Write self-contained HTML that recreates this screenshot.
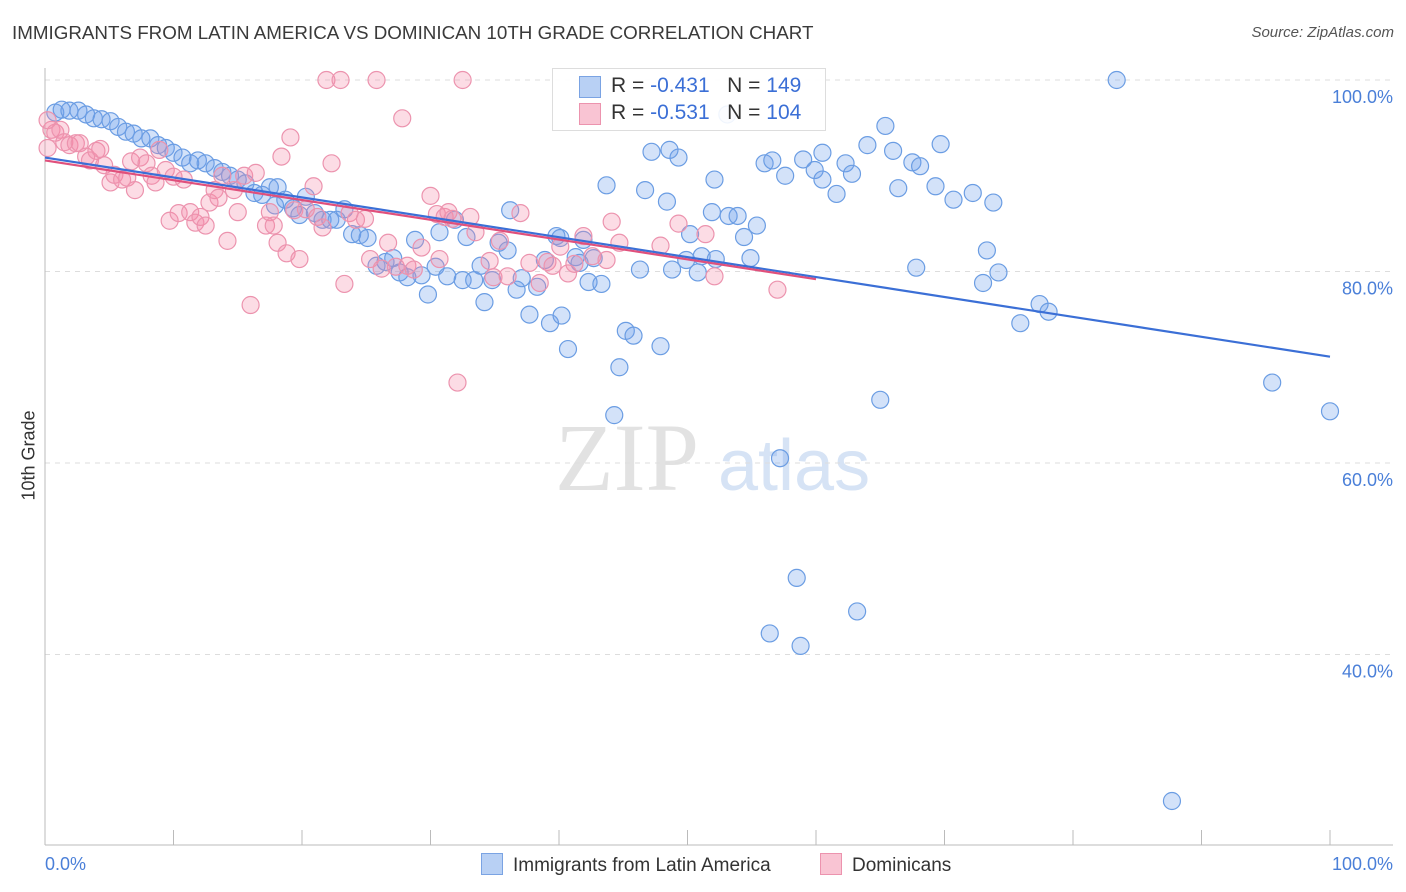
<!DOCTYPE html>
<html><head><meta charset="utf-8">
<style>
body{margin:0;background:#fff;font-family:"Liberation Sans",sans-serif;}
#wrap{position:relative;width:1406px;height:892px;overflow:hidden;}
.t{position:absolute;white-space:nowrap;}
</style></head>
<body>
<div id="wrap">
<div class="t" style="left:12px;top:22px;font-size:18.8px;color:#3a3a3a;">IMMIGRANTS FROM LATIN AMERICA VS DOMINICAN 10TH GRADE CORRELATION CHART</div>
<div class="t" style="right:12px;top:24px;font-size:15px;color:#555;font-style:italic;">Source: ZipAtlas.com</div>
<div class="t" style="left:-16px;top:445px;font-size:18px;color:#333;transform:rotate(-90deg);">10th Grade</div>
<svg id="svg" width="1406" height="892" style="position:absolute;left:0;top:0;"></svg>
</div>
<script>
const blueX=[0.8,1.3,1.9,2.6,3.2,3.8,4.4,5.1,5.7,6.3,6.9,7.5,8.2,8.8,9.4,10.0,10.7,11.3,11.9,12.5,13.2,13.8,14.4,15.0,15.6,16.3,16.9,17.5,18.1,17.9,18.7,19.3,19.8,20.3,21.0,21.6,22.2,22.7,23.3,23.9,24.5,25.1,25.8,26.5,27.1,27.6,28.2,28.8,29.3,29.8,30.4,30.7,31.3,31.9,32.5,32.8,33.4,33.9,34.2,34.8,35.3,36.0,36.2,36.7,37.1,37.7,38.3,38.9,39.3,39.8,40.2,40.7,41.3,41.6,41.9,42.3,42.7,43.3,43.7,44.3,44.7,45.2,45.8,46.3,46.7,47.2,47.9,48.4,48.8,49.3,49.9,50.2,50.8,51.1,51.9,52.1,52.2,53.2,53.9,54.4,54.9,55.4,56.0,56.6,57.2,57.6,58.5,58.8,56.4,59.0,59.9,60.5,60.5,61.6,62.3,62.8,63.2,64.0,65.0,65.4,66.0,66.4,67.5,67.8,68.1,69.3,69.7,70.7,72.2,73.0,73.3,73.8,74.2,75.9,77.4,78.1,83.4,87.7,95.5,100,53.1,48.6,40.1];
const blueY=[96.6,96.9,96.8,96.8,96.4,96.0,95.9,95.7,95.1,94.6,94.4,93.9,93.9,93.2,92.9,92.4,91.9,91.3,91.6,91.3,90.8,90.4,90.0,89.6,89.2,88.2,88.0,88.8,88.8,86.9,87.5,86.6,85.9,87.8,86.1,85.4,85.4,85.4,86.5,83.9,83.8,83.5,80.6,81.0,81.4,79.9,79.4,83.3,79.6,77.6,80.5,84.1,79.5,85.4,79.1,83.6,79.1,80.6,76.8,79.1,83.0,82.2,86.4,78.1,79.3,75.5,78.4,81.2,74.6,83.7,75.4,71.9,81.5,80.9,83.3,78.9,81.4,78.7,89.0,65.0,70.0,73.8,73.3,80.2,88.5,92.5,72.2,87.3,80.2,91.9,81.2,83.9,79.9,81.6,86.2,89.6,81.3,85.8,85.8,83.6,81.4,84.8,91.3,91.6,60.5,90.0,48.0,40.9,42.2,91.7,90.6,89.6,92.4,88.1,91.3,90.2,44.5,93.2,66.6,95.2,92.6,88.7,91.4,80.4,91.0,88.9,93.3,87.5,88.2,78.8,82.2,87.2,79.9,74.6,76.6,75.8,100,24.7,68.4,65.4,96.4,92.7,83.5];
const pinkX=[0.5,0.8,1.2,1.5,1.9,2.4,2.7,3.2,3.5,4.0,4.3,4.6,5.1,5.4,6.0,6.4,6.7,7.0,7.4,7.9,8.3,8.6,8.9,9.4,9.7,10.0,10.4,10.8,11.3,11.7,12.1,12.5,12.8,13.2,13.5,13.8,14.2,14.7,15.0,15.5,16.0,16.4,17.2,17.5,17.8,18.1,18.4,18.8,19.1,19.4,19.8,20.3,20.9,21.2,21.6,21.9,22.3,23.0,23.3,23.7,24.2,24.9,25.3,25.8,26.2,26.7,27.3,27.8,28.2,28.7,29.3,30.0,30.5,30.7,31.1,31.4,31.7,32.1,32.5,33.1,33.5,34.6,34.9,35.4,36.0,37.0,37.7,38.5,39.1,39.5,40.1,40.7,41.2,41.9,42.6,43.7,44.1,44.7,47.9,49.3,51.4,52.1,57.0,0.2,0.2];
const pinkY=[94.8,94.5,94.8,93.5,93.2,93.4,93.4,92.0,91.6,92.6,92.8,91.1,89.3,90.1,89.6,89.8,91.5,88.5,91.9,91.3,90.0,89.3,92.7,90.6,85.3,89.9,86.1,89.6,86.2,85.1,85.7,84.8,87.2,88.5,87.7,90.0,83.2,88.5,86.2,90.0,76.5,90.3,84.8,86.2,84.8,83.0,92.0,81.9,94.0,86.4,81.3,86.5,88.9,85.7,84.6,100,91.3,100,78.7,86.1,85.4,85.5,81.3,100,80.3,83.0,80.5,96.0,80.6,80.2,82.5,87.9,86.0,81.3,85.7,86.2,85.5,68.4,100,85.7,84.1,81.1,79.4,83.2,79.5,86.1,80.9,78.8,81.0,80.6,82.6,79.8,80.8,83.7,81.6,81.2,85.2,83.0,82.7,85.0,83.9,79.5,78.1,95.8,92.9];
const yTicks=[100,80,60,40];
const yTickLabels=["100.0%","80.0%","60.0%","40.0%"];
const xTicks=[0,10,20,30,40,50,60,70,80,90,100];
const blueTrend=[91.9,71.1,0,100];
const pinkTrend=[91.6,79.2,0,60];

const X=v=>45+v*12.85;
const Y=v=>80+(100-v)*9.575;
const svg=document.getElementById('svg');
const NS='http://www.w3.org/2000/svg';
function mk(tag,attrs,parent){const e=document.createElementNS(NS,tag);for(const k in attrs)e.setAttribute(k,attrs[k]);(parent||svg).appendChild(e);return e;}

let wm=mk('text',{x:555,y:490,'font-size':96,'font-family':'Liberation Serif,serif',fill:'#e2e2e2'});
wm.textContent='ZIP';


let wm2=mk('text',{x:718,y:490,'font-size':72,'font-family':'Liberation Sans,sans-serif',fill:'#d6e3f5'});
wm2.textContent='atlas';



yTicks.forEach((t,i)=>{
  let g=mk('line',{x1:45,x2:1393,y1:Y(t),y2:Y(t),stroke:'#ddd','stroke-dasharray':'5,5'});
  
  
  let l=mk('text',{x:1393,y:Y(t)+23,'text-anchor':'end','font-size':18,fill:'#4a7fd8','font-family':'Liberation Sans,sans-serif'});
  l.textContent=yTickLabels[i];
  
  
});
let ax=mk('line',{x1:45,x2:45,y1:68,y2:845,stroke:'#bbb'});


let bx=mk('line',{x1:45,x2:1393,y1:845,y2:845,stroke:'#bbb'});


xTicks.forEach(t=>{
  let k=mk('line',{x1:X(t),x2:X(t),y1:830,y2:845,stroke:'#bbb'});
  
  
});
let xl0=mk('text',{x:45,y:870,'font-size':18,fill:'#4a7fd8','font-family':'Liberation Sans,sans-serif'});
xl0.textContent='0.0%';


let xl1=mk('text',{x:1393,y:870,'text-anchor':'end','font-size':18,fill:'#4a7fd8','font-family':'Liberation Sans,sans-serif'});
xl1.textContent='100.0%';



blueX.forEach((v,i)=>{
  let c=mk('circle',{cx:X(v),cy:Y(blueY[i]),r:8.5,fill:'rgba(110,160,235,0.3)',stroke:'#6b9de3','stroke-width':1.2});
  
  
});
pinkX.forEach((v,i)=>{
  let c=mk('circle',{cx:X(v),cy:Y(pinkY[i]),r:8.5,fill:'rgba(245,140,170,0.3)',stroke:'#ec93ae','stroke-width':1.2});
  
  
});
let tl=mk('line',{x1:X(blueTrend[2]),y1:Y(blueTrend[0]),x2:X(blueTrend[3]),y2:Y(blueTrend[1]),stroke:'#3b6fd6','stroke-width':2.2});


let tp=mk('line',{x1:X(pinkTrend[2]),y1:Y(pinkTrend[0]),x2:X(pinkTrend[3]),y2:Y(pinkTrend[1]),stroke:'#e0507c','stroke-width':2.2});


</script>
<div class="t" style="left:552px;top:68px;width:272px;height:61px;background:rgba(255,255,255,0.9);border:1px solid #ddd;font-size:21px;">
  <div style="position:absolute;left:26px;top:7px;width:20px;height:20px;background:#b8d0f4;border:1px solid #7aa3e3;"></div>
  <div class="t" style="left:58px;top:5px;color:#333;">R = <span style="color:#3b6fd6">-0.431</span>&nbsp;&nbsp;&nbsp;N = <span style="color:#3b6fd6">149</span></div>
  <div style="position:absolute;left:26px;top:34px;width:20px;height:20px;background:#f9c4d3;border:1px solid #ec93ae;"></div>
  <div class="t" style="left:58px;top:32px;color:#333;">R = <span style="color:#3b6fd6">-0.531</span>&nbsp;&nbsp;&nbsp;N = <span style="color:#3b6fd6">104</span></div>
</div>
<div class="t" style="left:481px;top:853px;font-size:19px;color:#333;">
  <span style="display:inline-block;width:20px;height:20px;background:#b8d0f4;border:1px solid #7aa3e3;vertical-align:-4px;margin-right:10px;"></span>Immigrants from Latin America</div>
<div class="t" style="left:820px;top:853px;font-size:19px;color:#333;">
  <span style="display:inline-block;width:20px;height:20px;background:#f9c4d3;border:1px solid #ec93ae;vertical-align:-4px;margin-right:10px;"></span>Dominicans</div>
</body></html>
